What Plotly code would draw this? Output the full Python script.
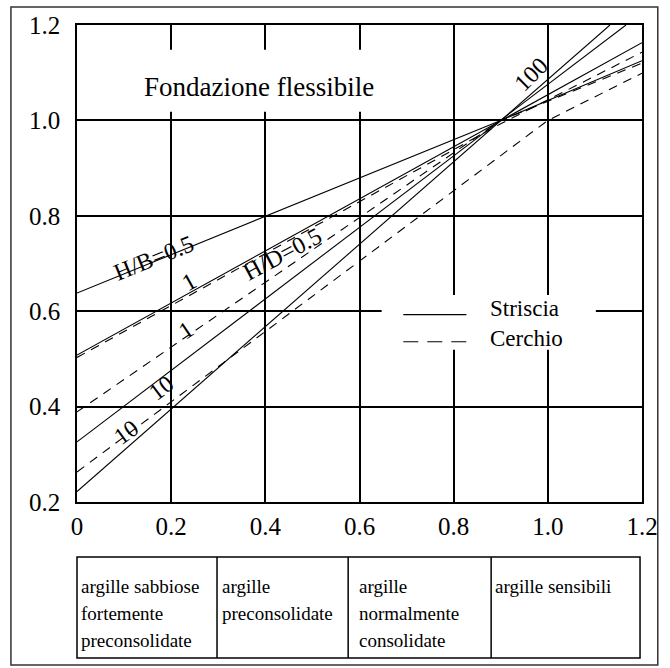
import plotly.graph_objects as go

# ---------------- data ----------------
A_TICKS = [0.0, 0.2, 0.4, 0.6, 0.8, 1.0, 1.2]
A_TICK_TEXT = ["0", "0.2", "0.4", "0.6", "0.8", "1.0", "1.2"]
MU_TICKS = [0.2, 0.4, 0.6, 0.8, 1.0, 1.2]
MU_TICK_TEXT = ["0.2", "0.4", "0.6", "0.8", "1.0", "1.2"]

# Striscia (strip footing) - solid lines
strip_hb05_x = [0.0, 0.9, 1.2]
strip_hb05_y = [0.638, 1.0, 1.125]
strip_hb1_x = [0.0, 0.9, 1.2]
strip_hb1_y = [0.508, 1.0, 1.163]
strip_hb10_x = [0.0, 0.9, 1.166]
strip_hb10_y = [0.326, 1.0, 1.2]
strip_hb100_x = [0.0, 0.2, 0.9, 1.132]
strip_hb100_y = [0.222, 0.395, 1.0, 1.2]

# Cerchio (circular footing) - dashed lines
circ_hd05_x = [0.0, 0.9, 1.2]
circ_hd05_y = [0.503, 0.993, 1.143]
circ_hd1_x = [0.0, 0.6, 0.9, 1.2]
circ_hd1_y = [0.389, 0.797, 1.0, 1.12]
circ_hd10_x = [0.0, 0.2, 1.0, 1.2]
circ_hd10_y = [0.263, 0.41, 1.0, 1.099]

series = [
    ("Striscia H/B=0.5", strip_hb05_x, strip_hb05_y, "solid"),
    ("Striscia H/B=1", strip_hb1_x, strip_hb1_y, "solid"),
    ("Striscia H/B=10", strip_hb10_x, strip_hb10_y, "solid"),
    ("Striscia H/B=100", strip_hb100_x, strip_hb100_y, "solid"),
    ("Cerchio H/D=0.5", circ_hd05_x, circ_hd05_y, "9px,7px"),
    ("Cerchio H/D=1", circ_hd1_x, circ_hd1_y, "9px,7px"),
    ("Cerchio H/D=10", circ_hd10_x, circ_hd10_y, "9px,7px"),
]

soil_classes = [
    ["argille sabbiose", "fortemente", "preconsolidate"],
    ["argille", "preconsolidate"],
    ["argille", "normalmente", "consolidate"],
    ["argille sensibili"],
]

TITLE = "Fondazione flessibile"
LEGEND_NAMES = ["Striscia", "Cerchio"]

# curve labels: text, A, mu, angle
LABELS = [
    ("H/B=0.5", 0.163, 0.712, -22),
    ("1", 0.237, 0.662, -29),
    ("H/D=0.5", 0.436, 0.720, -28),
    ("1", 0.232, 0.560, -34),
    ("10", 0.178, 0.440, -37),
    ("10", 0.105, 0.347, -36),
    ("100", 0.965, 1.097, -45),
]

# ---------------- geometry (window pixels) ----------------
W, H = 670, 668
PL, PT, PR, PB = 77, 25, 650, 502          # plot area
ML, MT, MR, MB = PL, PT, W - PR, H - PB
PW = PR - PL
PH = PB - PT
FONT = "Liberation Serif, Times New Roman, Times, serif"


def pxx(px):
    return (px - PL) / PW


def pxy(py):
    return (PB - py) / PH


fig = go.Figure()
for name, xs, ys, dash in series:
    fig.add_trace(go.Scatter(
        x=xs, y=ys, mode="lines", name=name, showlegend=False,
        line=dict(color="black", width=1.1, dash=dash),
        hoverinfo="name",
    ))

shapes = []
annotations = []

# white box behind the title (interrupts the grid lines)
shapes.append(dict(type="rect", xref="x", yref="y", x0=0.14, x1=0.66, y0=1.018, y1=1.148,
                   fillcolor="white", line=dict(width=0), layer="above"))
annotations.append(dict(text=TITLE, x=0.387, y=1.07, xref="x", yref="y", showarrow=False,
                        font=dict(family=FONT, size=27, color="black")))

# custom legend (white box over the grid)
shapes.append(dict(type="rect", xref="x", yref="y", x0=0.647, x1=1.102, y0=0.519, y1=0.634,
                   fillcolor="white", line=dict(width=0), layer="above"))
shapes.append(dict(type="line", xref="x", yref="y", x0=0.693, x1=0.827, y0=0.593, y1=0.593,
                   line=dict(color="black", width=1.2), layer="above"))
shapes.append(dict(type="line", xref="x", yref="y", x0=0.693, x1=0.827, y0=0.536, y1=0.536,
                   line=dict(color="black", width=1.2, dash="15px,9px"), layer="above"))
annotations.append(dict(text="<br>".join(LEGEND_NAMES), x=0.872, y=0.574, xref="x", yref="y",
                        showarrow=False, xanchor="left", yanchor="middle", align="left",
                        font=dict(family=FONT, size=23, color="black")))

# curve labels
for txt, ax_, ay_, ang in LABELS:
    annotations.append(dict(text=txt, x=ax_, y=ay_, xref="x", yref="y", showarrow=False,
                            textangle=ang, font=dict(family=FONT, size=24, color="black")))

# table of soil classes below the chart
tab_top, tab_bot = 557, 658
col_edges = [77, 219, 352, 497, 648]
text_x = [79, 222, 361, 499]
line_y = [586, 613, 640]
shapes.append(dict(type="rect", xref="paper", yref="paper",
                   x0=pxx(col_edges[0]), x1=pxx(col_edges[-1]), y0=pxy(tab_bot), y1=pxy(tab_top),
                   line=dict(color="black", width=1.5), fillcolor="rgba(0,0,0,0)"))
for cx in col_edges[1:-1]:
    shapes.append(dict(type="line", xref="paper", yref="paper", x0=pxx(cx), x1=pxx(cx),
                       y0=pxy(tab_bot), y1=pxy(tab_top), line=dict(color="black", width=1.5)))
for ci, lines in enumerate(soil_classes):
    for li, t in enumerate(lines):
        annotations.append(dict(text=t, x=pxx(text_x[ci]), y=pxy(line_y[li]), xref="paper", yref="paper",
                                xanchor="left", yanchor="middle", showarrow=False,
                                font=dict(family=FONT, size=19, color="black")))

# outer frame
shapes.append(dict(type="rect", xref="paper", yref="paper",
                   x0=pxx(10), x1=pxx(666), y0=pxy(665), y1=pxy(7),
                   line=dict(color="#333333", width=1.5), fillcolor="rgba(0,0,0,0)"))

axis_common = dict(showgrid=True, gridcolor="black", gridwidth=1.5, zeroline=False,
                   showline=True, mirror=True, linecolor="black", linewidth=1.5,
                   ticks="", tickfont=dict(family=FONT, size=25, color="black"))

fig.update_layout(
    width=W, height=H,
    margin=dict(l=ML, r=MR, t=MT, b=MB),
    paper_bgcolor="white", plot_bgcolor="white",
    showlegend=False,
    xaxis=dict(range=[0, 1.2], tickvals=A_TICKS, ticktext=A_TICK_TEXT, ticklabelstandoff=1, **axis_common),
    yaxis=dict(range=[0.2, 1.2], tickvals=MU_TICKS, ticktext=MU_TICK_TEXT, ticklabelstandoff=10, **axis_common),
    shapes=shapes,
    annotations=annotations,
)

fig.write_html(
    "out.html",
    config={"displayModeBar": False},
    post_script="document.body.style.margin='0';document.documentElement.style.overflow='hidden';",
)
